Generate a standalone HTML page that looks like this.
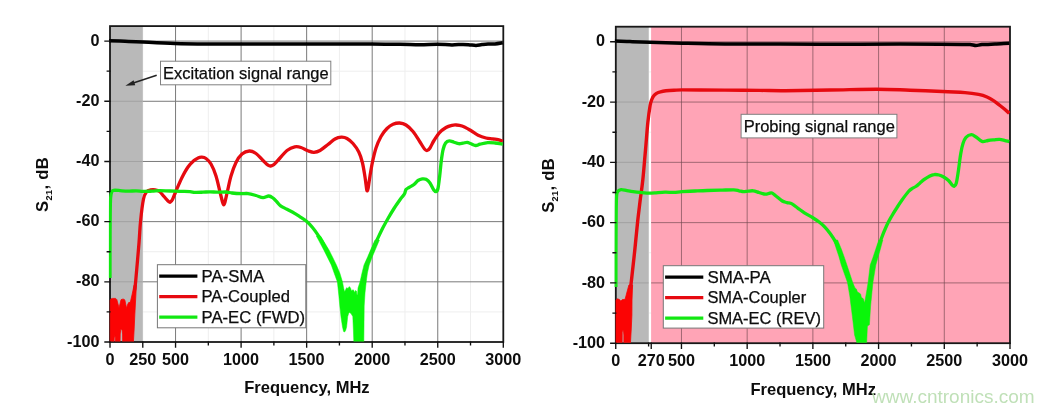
<!DOCTYPE html>
<html><head><meta charset="utf-8"><title>S21 plots</title>
<style>html,body{margin:0;padding:0;background:#fff}svg{display:block}</style></head>
<body><svg width="1055" height="412" viewBox="0 0 1055 412">
<rect width="1055" height="412" fill="#fff"/>
<clipPath id="cp1"><rect x="108.8" y="25.2" width="395.4" height="316.4"/></clipPath>
<path d="M142.78 26.1V342.0M208.32 26.1V342.0M273.88 26.1V342.0M339.42 26.1V342.0M404.97 26.1V342.0M470.52 26.1V342.0M110.0 311.91H503.3M110.0 251.73H503.3M110.0 191.55H503.3M110.0 131.37H503.3M110.0 71.19H503.3" stroke="#eeeeee" stroke-width="1" fill="none"/>
<rect x="110.0" y="26.1" width="32.8" height="315.9" fill="#b9b9b9"/>
<path d="M175.55 26.1V342.0M241.10 26.1V342.0M306.65 26.1V342.0M372.20 26.1V342.0M437.75 26.1V342.0M142.8 281.82H503.3M142.8 221.64H503.3M142.8 161.46H503.3M142.8 101.28H503.3M142.8 41.10H503.3" stroke="#7a7a7a" stroke-width="1" fill="none"/>
<path d="M110.0 281.82H142.8M110.0 221.64H142.8M110.0 161.46H142.8M110.0 101.28H142.8M110.0 41.10H142.8" stroke="#a2a2a2" stroke-width="1" fill="none"/>
<path d="M156.7 75.2L131 83.8" stroke="#222" stroke-width="1.5" fill="none"/><path d="M125.4 85.7L133.6 80.2L135.2 85.2Z" fill="#222"/>
<rect x="110.0" y="26.1" width="393.3" height="315.9" fill="none" stroke="#181818" stroke-width="1.8"/>
<g clip-path="url(#cp1)">
<path d="M109.0 40.7C111.7 40.8 119.3 41.1 125.0 41.3C130.7 41.5 134.7 41.6 143.0 42.0C151.3 42.4 163.8 43.1 175.0 43.4C186.2 43.7 198.9 43.8 210.0 43.9C221.1 44.0 225.7 44.1 241.5 44.1C257.3 44.1 288.6 44.0 305.0 44.0C321.4 44.0 328.8 44.1 340.0 44.1C351.2 44.1 362.0 43.9 372.0 43.9C382.0 43.9 392.0 44.2 400.0 44.3C408.0 44.4 413.8 44.7 420.0 44.7C426.2 44.7 431.7 44.2 437.0 44.2C442.3 44.2 447.7 44.9 452.0 44.9C456.3 44.9 460.0 44.4 463.0 44.4C466.0 44.4 467.8 44.7 470.0 44.9C472.2 45.1 474.0 45.4 476.0 45.4C478.0 45.4 480.0 44.8 482.0 44.6C484.0 44.4 485.8 44.2 488.0 44.1C490.2 44.0 492.5 44.2 495.0 44.0C497.5 43.8 501.5 43.0 502.8 42.8" stroke="#000" stroke-width="3.5" fill="none" stroke-linejoin="round" stroke-linecap="butt"/>
<path d="M110.2 344.0L110.2 300.0L111.2 298.8L112.6 298.4L115.6 298.4L116.8 299.6L118.0 304.0L119.0 308.0L120.0 304.0L121.0 299.8L122.0 299.2L124.0 299.2L124.8 300.0L125.8 304.5L126.6 308.4L127.5 305.0L128.6 302.6L130.3 302.3L132.0 295.0L134.1 285.0L136.4 285.0L135.6 300.0L134.8 315.0L134.1 330.0L133.3 344.0L122.7 344.0L122.6 334.0L122.0 329.5L120.8 329.0L120.2 334.0L120.0 344.0L115.6 344.0L115.4 338.0L114.8 335.0L114.2 338.0L114.0 344.0Z" fill="#fb0404" stroke="#fb0404" stroke-width="0.8" stroke-linejoin="round"/>
<path d="M134.6 290.0C134.8 288.5 135.0 288.8 135.7 281.0C136.4 273.2 138.2 253.0 139.0 243.0C139.8 233.0 139.8 228.3 140.6 221.0C141.3 213.7 142.5 203.9 143.5 199.0C144.5 194.1 145.5 193.2 146.7 191.7C147.9 190.2 149.1 190.2 150.5 189.9C151.9 189.6 153.5 189.5 155.0 189.8C156.5 190.1 158.0 190.4 159.5 191.5C161.0 192.6 162.6 194.9 164.0 196.5C165.4 198.1 167.0 200.1 168.0 201.0C169.0 201.9 169.4 202.4 170.2 202.2C170.9 201.9 171.5 201.4 172.5 199.5C173.5 197.6 174.4 194.7 176.0 191.0C177.6 187.3 180.0 181.5 182.0 177.5C184.0 173.5 186.0 169.8 188.0 167.0C190.0 164.2 192.3 162.0 194.0 160.5C195.7 159.0 196.7 158.6 198.0 158.0C199.3 157.4 200.5 157.1 201.8 157.2C203.1 157.3 204.5 157.4 206.0 158.5C207.5 159.6 209.3 161.1 211.0 164.0C212.7 166.9 214.5 171.3 216.0 176.0C217.5 180.7 218.9 187.7 220.0 192.0C221.1 196.3 221.9 199.9 222.5 202.0C223.1 204.1 223.3 204.8 223.7 204.8C224.1 204.8 224.4 204.3 225.0 202.0C225.6 199.7 226.5 195.3 227.5 191.0C228.5 186.7 229.6 180.8 231.0 176.0C232.4 171.2 234.2 166.2 236.0 162.5C237.8 158.8 239.8 155.9 242.0 154.0C244.2 152.1 247.1 151.1 249.4 151.0C251.7 150.9 253.7 151.9 256.0 153.5C258.3 155.1 261.0 158.6 263.0 160.5C265.0 162.4 266.7 164.3 268.0 165.2C269.3 166.1 269.7 166.1 270.7 166.0C271.7 165.9 272.4 165.8 274.0 164.5C275.6 163.2 277.8 160.3 280.0 158.0C282.2 155.7 284.6 152.3 287.0 150.5C289.4 148.7 292.4 147.4 294.7 146.9C297.0 146.4 298.8 146.8 301.0 147.5C303.2 148.2 305.8 150.0 308.0 150.8C310.2 151.6 312.0 152.4 314.0 152.3C316.0 152.2 317.7 151.8 320.0 150.5C322.3 149.2 325.5 146.4 328.0 144.5C330.5 142.6 332.8 140.2 335.0 139.0C337.2 137.8 339.3 137.3 341.3 137.2C343.3 137.1 345.1 137.4 347.0 138.5C348.9 139.6 351.0 141.2 353.0 143.5C355.0 145.8 357.2 148.8 358.8 152.0C360.4 155.2 361.5 158.8 362.5 163.0C363.5 167.2 364.3 172.7 365.0 177.0C365.7 181.3 366.2 186.7 366.6 189.0C367.0 191.3 367.0 191.0 367.3 190.8C367.6 190.6 367.8 190.5 368.2 188.0C368.6 185.5 369.3 180.3 370.0 176.0C370.7 171.7 371.4 167.1 372.4 162.4C373.4 157.7 374.6 152.3 376.0 148.0C377.4 143.7 379.2 139.8 381.0 136.5C382.8 133.2 385.0 130.5 387.0 128.5C389.0 126.5 390.9 125.2 393.0 124.3C395.1 123.4 397.4 122.9 399.6 123.0C401.8 123.1 403.8 123.6 406.0 125.0C408.2 126.4 410.7 128.7 413.0 131.5C415.3 134.3 418.1 139.1 420.0 142.0C421.9 144.9 423.3 147.6 424.5 149.0C425.7 150.4 426.2 150.7 427.1 150.5C428.0 150.3 428.9 149.7 430.0 148.0C431.1 146.3 432.4 143.0 434.0 140.5C435.6 138.0 437.3 135.0 439.3 132.8C441.3 130.6 443.9 128.8 446.0 127.5C448.1 126.2 450.3 125.7 452.0 125.3C453.7 124.9 454.6 124.9 456.3 125.0C458.0 125.1 459.7 125.2 462.0 126.0C464.3 126.8 467.3 128.5 470.0 130.0C472.7 131.5 475.4 133.9 478.1 135.2C480.8 136.5 483.6 137.4 486.0 138.0C488.4 138.6 490.7 138.6 492.7 138.9C494.7 139.2 496.3 139.2 498.0 139.6C499.7 140.0 502.0 141.0 502.8 141.3" stroke="#e60a10" stroke-width="3.3" fill="none" stroke-linejoin="round" stroke-linecap="butt"/>
<path d="M110.0 278.0C110.0 270.0 110.0 243.0 110.1 230.0C110.2 217.0 110.2 206.4 110.5 200.0C110.8 193.6 111.2 193.4 111.8 191.8C112.4 190.2 112.6 190.5 114.0 190.3C115.4 190.1 117.7 190.4 120.0 190.6C122.3 190.8 125.3 191.2 128.0 191.2C130.7 191.2 133.5 190.8 136.0 190.8C138.5 190.8 140.3 191.3 143.0 191.4C145.7 191.5 149.2 191.3 152.0 191.2C154.8 191.1 157.0 190.6 160.0 190.6C163.0 190.6 166.7 190.9 170.0 191.0C173.3 191.1 176.7 191.3 180.0 191.4C183.3 191.5 187.5 191.4 190.0 191.6C192.5 191.8 192.8 192.3 195.0 192.4C197.2 192.5 200.5 192.3 203.0 192.2C205.5 192.1 207.5 191.8 210.0 191.8C212.5 191.8 215.3 192.2 218.0 192.2C220.7 192.2 223.7 191.9 226.0 192.0C228.3 192.1 229.5 192.7 232.0 193.0C234.5 193.3 238.3 193.6 241.0 193.7C243.7 193.8 245.5 193.3 248.0 193.6C250.5 193.9 253.5 194.8 256.0 195.5C258.5 196.2 260.9 197.5 263.0 197.6C265.1 197.7 267.1 195.9 268.8 196.0C270.5 196.1 271.6 197.0 273.0 198.0C274.4 199.0 275.7 200.7 277.0 202.0C278.3 203.3 278.9 204.6 280.6 205.8C282.3 207.0 284.8 208.1 287.0 209.3C289.2 210.5 291.5 211.6 293.7 212.8C295.9 214.1 297.8 215.4 300.0 216.8C302.2 218.2 304.7 219.7 306.8 221.5C308.9 223.3 310.7 225.3 312.5 227.5C314.3 229.7 316.1 232.2 317.7 234.6C319.3 237.0 320.9 239.4 322.3 242.0C323.8 244.6 325.0 247.2 326.4 249.9C327.8 252.6 329.1 255.3 330.4 258.0C331.7 260.7 333.0 263.5 334.1 266.2C335.2 268.9 336.0 271.4 337.0 274.0C338.0 276.6 339.4 280.7 339.9 282.0" stroke="#12e812" stroke-width="3.3" fill="none" stroke-linejoin="round" stroke-linecap="butt"/>
<path d="M316.4 236.0L323.8 250.0L327.8 258.0L331.3 265.0L334.5 274.0L337.4 281.9L338.8 295.0L339.8 306.0L341.0 317.0L342.5 326.9L343.6 331.5L344.6 332.0L345.6 330.5L346.6 326.9L347.7 316.5L348.8 313.0L349.7 312.4L351.0 313.5L352.8 316.5L353.4 330.0L353.9 344.0L363.8 344.0L364.0 325.0L364.2 306.0L365.0 293.0L366.2 281.9L367.4 273.0L369.2 265.0L372.2 257.0L375.6 249.0L379.4 240.0L375.0 240.0L371.0 249.0L367.6 257.0L364.0 265.0L362.0 273.0L360.0 281.9L359.0 285.0L358.0 288.0L357.6 294.5L357.0 295.0L356.4 291.0L355.5 290.5L354.5 292.5L353.5 290.0L352.8 289.7L351.5 291.0L350.5 288.0L349.3 286.6L348.0 288.5L346.6 287.7L345.5 290.0L344.6 291.8L343.6 288.0L342.5 281.9L339.8 273.0L336.4 265.0L333.0 258.0L329.0 250.0L320.6 236.0Z" fill="#0af60a" stroke="#0af60a" stroke-width="0.5" stroke-linejoin="round"/>
<path d="M363.4 283.0C363.9 280.0 365.5 269.3 366.6 265.0C367.7 260.7 368.7 259.7 369.8 257.0C370.9 254.3 371.8 251.8 373.0 249.0C374.2 246.2 375.5 243.2 377.0 240.0C378.5 236.8 380.2 233.1 382.0 229.5C383.8 225.9 386.0 222.0 388.0 218.5C390.0 215.0 391.9 211.8 394.0 208.5C396.1 205.2 398.8 201.4 400.5 199.0C402.2 196.6 403.5 195.6 404.4 194.0C405.3 192.4 405.2 190.6 406.0 189.5C406.8 188.4 407.7 188.3 409.0 187.5C410.3 186.7 412.5 185.7 414.0 184.5C415.5 183.3 416.6 181.4 418.0 180.5C419.4 179.6 421.0 179.1 422.3 178.9C423.6 178.7 424.7 178.6 426.0 179.3C427.3 180.0 428.8 181.3 430.0 183.0C431.2 184.7 432.5 188.1 433.5 189.5C434.5 190.9 435.1 191.8 435.8 191.7C436.5 191.6 437.2 191.6 437.9 189.0C438.5 186.4 439.1 180.7 439.7 176.0C440.3 171.3 440.7 165.1 441.3 160.7C441.9 156.3 442.4 152.4 443.1 149.5C443.8 146.6 444.6 144.4 445.6 143.0C446.6 141.6 447.8 140.9 449.2 140.8C450.6 140.7 452.4 141.7 454.0 142.2C455.6 142.7 457.2 143.5 458.7 143.7C460.2 143.9 461.6 143.4 463.0 143.2C464.4 143.0 465.9 142.2 467.2 142.3C468.5 142.4 469.6 143.3 471.0 143.8C472.4 144.3 474.2 145.4 475.7 145.5C477.2 145.6 478.0 144.7 480.0 144.2C482.0 143.7 485.3 142.8 487.8 142.6C490.3 142.4 492.5 142.7 495.0 143.0C497.5 143.3 501.5 144.0 502.8 144.2" stroke="#12e812" stroke-width="3.3" fill="none" stroke-linejoin="round" stroke-linecap="butt"/>
</g>
<path d="M110.00 341.4v6.3M142.78 341.4v6.3M175.55 341.4v6.3M241.10 341.4v6.3M306.65 341.4v6.3M372.20 341.4v6.3M437.75 341.4v6.3M503.30 341.4v6.3M208.32 341.4v4M273.88 341.4v4M339.42 341.4v4M404.97 341.4v4M470.52 341.4v4M110.6 342.00h-6.3M110.6 281.82h-6.3M110.6 221.64h-6.3M110.6 161.46h-6.3M110.6 101.28h-6.3M110.6 41.10h-6.3M110.6 311.91h-4M110.6 251.73h-4M110.6 191.55h-4M110.6 131.37h-4M110.6 71.19h-4" stroke="#111" stroke-width="1.35" fill="none"/>
<g font-family="Liberation Sans, Arial, Helvetica, sans-serif" font-size="16.2" font-weight="bold" fill="#0d0d0d">
<text transform="translate(99.4 346.6) scale(1 1.03)" text-anchor="end">-100</text>
<text transform="translate(99.4 286.4) scale(1 1.03)" text-anchor="end">-80</text>
<text transform="translate(99.4 226.2) scale(1 1.03)" text-anchor="end">-60</text>
<text transform="translate(99.4 166.1) scale(1 1.03)" text-anchor="end">-40</text>
<text transform="translate(99.4 105.9) scale(1 1.03)" text-anchor="end">-20</text>
<text transform="translate(99.4 45.7) scale(1 1.03)" text-anchor="end">0</text>
<text transform="translate(110.0 365.2) scale(1 1.03)" text-anchor="middle">0</text>
<text transform="translate(142.8 365.2) scale(1 1.03)" text-anchor="middle">250</text>
<text transform="translate(175.6 365.2) scale(1 1.03)" text-anchor="middle">500</text>
<text transform="translate(241.1 365.2) scale(1 1.03)" text-anchor="middle">1000</text>
<text transform="translate(306.6 365.2) scale(1 1.03)" text-anchor="middle">1500</text>
<text transform="translate(372.2 365.2) scale(1 1.03)" text-anchor="middle">2000</text>
<text transform="translate(437.8 365.2) scale(1 1.03)" text-anchor="middle">2500</text>
<text transform="translate(503.3 365.2) scale(1 1.03)" text-anchor="middle">3000</text>
</g>
<text x="244.2" y="393.4" font-family="Liberation Sans, Arial, Helvetica, sans-serif" font-size="16.4" font-weight="bold" fill="#0d0d0d" textLength="125.4" lengthAdjust="spacingAndGlyphs">Frequency, MHz</text>
<text transform="translate(48.2 184.6) rotate(-90)" text-anchor="middle" textLength="54.6" lengthAdjust="spacing" font-family="Liberation Sans, Arial, Helvetica, sans-serif" font-size="16.6" font-weight="bold" fill="#0d0d0d">S<tspan font-size="9.2" dy="3.9">21</tspan><tspan dy="-3.9">, dB</tspan></text>
<rect x="157.4" y="264.7" width="148.4" height="63.1" fill="#fff" stroke="#777" stroke-width="1"/>
<path d="M159.2 276.1h38.2" stroke="#000" stroke-width="3.2" fill="none"/>
<text x="201.5" y="281.8" font-family="Liberation Sans, Arial, Helvetica, sans-serif" font-size="16.3" fill="#0d0d0d" stroke="#0d0d0d" stroke-width="0.25" textLength="63.0" lengthAdjust="spacingAndGlyphs">PA-SMA</text>
<path d="M159.2 296.6h38.2" stroke="#e60a10" stroke-width="3.2" fill="none"/>
<text x="201.5" y="302.3" font-family="Liberation Sans, Arial, Helvetica, sans-serif" font-size="16.3" fill="#0d0d0d" stroke="#0d0d0d" stroke-width="0.25" textLength="88.4" lengthAdjust="spacingAndGlyphs">PA-Coupled</text>
<path d="M159.2 317.1h38.2" stroke="#12e812" stroke-width="3.2" fill="none"/>
<text x="201.5" y="322.8" font-family="Liberation Sans, Arial, Helvetica, sans-serif" font-size="16.3" fill="#0d0d0d" stroke="#0d0d0d" stroke-width="0.25" textLength="103.6" lengthAdjust="spacingAndGlyphs">PA-EC (FWD)</text>
<rect x="160.5" y="61.2" width="170.3" height="23.6" fill="#fff" stroke="#808080" stroke-width="1"/>
<text x="163.1" y="78.7" font-family="Liberation Sans, Arial, Helvetica, sans-serif" font-size="16.3" fill="#0d0d0d" stroke="#0d0d0d" stroke-width="0.25" textLength="165.6" lengthAdjust="spacingAndGlyphs">Excitation signal range</text>
<clipPath id="cp2"><rect x="614.5" y="25.8" width="396.4" height="317.0"/></clipPath>
<path d="M648.60 26.7V343.2M714.31 26.7V343.2M780.02 26.7V343.2M845.73 26.7V343.2M911.44 26.7V343.2M977.15 26.7V343.2M615.8 313.06H1010.0M615.8 252.77H1010.0M615.8 192.49H1010.0M615.8 132.20H1010.0M615.8 71.91H1010.0" stroke="#eeeeee" stroke-width="1" fill="none"/>
<rect x="615.8" y="26.7" width="32.9" height="316.5" fill="#b9b9b9"/>
<path d="M615.8 282.91H648.6M615.8 222.63H648.6M615.8 162.34H648.6M615.8 102.06H648.6M615.8 41.77H648.6" stroke="#a2a2a2" stroke-width="1" fill="none"/>
<rect x="651.1" y="26.7" width="358.9" height="316.5" fill="#ffa4b6"/>
<path d="M681.46 26.7V343.2M747.17 26.7V343.2M812.88 26.7V343.2M878.58 26.7V343.2M944.29 26.7V343.2M651.1 282.91H1010.0M651.1 222.63H1010.0M651.1 162.34H1010.0M651.1 102.06H1010.0M651.1 41.77H1010.0" stroke="#70474f" stroke-opacity="0.66" stroke-width="1" fill="none"/>

<rect x="615.8" y="26.7" width="394.2" height="316.5" fill="none" stroke="#181818" stroke-width="1.8"/>
<g clip-path="url(#cp2)">
<path d="M614.8 41.0C617.3 41.1 624.1 41.4 630.0 41.6C635.9 41.8 641.3 42.0 650.0 42.3C658.7 42.6 669.5 42.9 682.0 43.2C694.5 43.5 708.7 43.9 725.0 44.0C741.3 44.1 760.8 44.1 780.0 44.1C799.2 44.1 820.0 44.2 840.0 44.2C860.0 44.2 883.3 44.0 900.0 44.0C916.7 44.0 929.7 44.2 940.0 44.3C950.3 44.4 957.0 44.6 962.0 44.6C967.0 44.6 967.7 44.4 970.0 44.5C972.3 44.6 974.0 45.5 976.0 45.5C978.0 45.5 978.8 44.9 982.0 44.6C985.2 44.4 990.5 44.2 995.0 44.0C999.5 43.8 1006.9 43.3 1009.3 43.2" stroke="#000" stroke-width="3.5" fill="none" stroke-linejoin="round" stroke-linecap="butt"/>
<path d="M616.0 344.0L616.0 300.0L617.5 298.8L619.5 299.6L620.9 301.2L622.3 299.6L624.0 299.5L625.1 299.3L627.0 292.0L628.9 285.0L632.6 285.0L632.0 300.0L631.9 315.0L631.2 330.0L630.4 344.0L623.9 344.0L623.9 335.0L623.5 331.0L622.8 330.2L622.2 332.0L622.1 344.0Z" fill="#fb0404" stroke="#fb0404" stroke-width="0.8" stroke-linejoin="round"/>
<path d="M630.4 289.0C630.6 287.3 630.9 285.5 631.6 279.0C632.3 272.5 633.8 259.7 634.8 250.0C635.8 240.3 636.8 229.3 637.7 221.0C638.6 212.7 639.4 206.8 640.2 200.0C641.1 193.2 641.9 188.3 642.8 180.0C643.7 171.7 644.6 159.7 645.5 150.0C646.4 140.3 647.1 129.4 647.9 122.0C648.7 114.6 649.5 109.2 650.1 105.5C650.8 101.8 651.2 101.1 651.8 99.5C652.4 97.9 653.0 96.8 653.8 95.8C654.6 94.8 655.4 94.1 656.5 93.4C657.6 92.7 658.9 92.2 660.5 91.8C662.1 91.4 663.8 91.1 666.0 90.8C668.2 90.5 671.3 90.3 674.0 90.2C676.7 90.1 677.7 89.9 682.0 89.9C686.3 89.9 692.8 90.0 700.0 90.0C707.2 90.0 715.0 90.0 725.0 90.1C735.0 90.2 750.0 90.3 760.0 90.4C770.0 90.5 773.3 90.8 785.0 90.7C796.7 90.6 814.7 90.2 830.0 90.0C845.3 89.8 863.4 89.2 876.7 89.2C890.0 89.2 898.1 89.8 910.0 90.2C921.9 90.6 938.8 91.3 948.0 91.7C957.2 92.1 959.9 92.1 965.0 92.6C970.1 93.0 974.9 93.7 978.6 94.4C982.3 95.1 984.5 95.9 987.0 97.0C989.5 98.1 991.7 99.5 993.9 100.9C996.1 102.3 998.1 104.1 1000.0 105.5C1001.9 106.9 1003.5 108.2 1005.0 109.5C1006.5 110.8 1008.6 112.7 1009.3 113.3" stroke="#e60a10" stroke-width="3.4" fill="none" stroke-linejoin="round" stroke-linecap="butt"/>
<path d="M615.9 287.0C615.9 279.2 615.9 254.5 616.0 240.0C616.1 225.5 616.1 208.0 616.4 200.0C616.7 192.0 616.8 193.5 617.6 191.8C618.4 190.1 619.4 189.8 621.0 189.6C622.6 189.4 624.7 190.2 627.0 190.6C629.3 191.0 632.5 191.5 635.0 191.8C637.5 192.1 639.7 192.4 642.0 192.6C644.3 192.8 646.5 193.2 648.8 193.2C651.1 193.2 653.3 193.0 656.0 192.8C658.7 192.6 662.0 192.3 665.0 192.2C668.0 192.1 671.2 192.5 674.0 192.4C676.8 192.3 678.5 191.9 682.0 191.7C685.5 191.5 690.8 191.2 695.0 191.0C699.2 190.8 702.8 190.6 707.0 190.5C711.2 190.4 715.5 190.3 720.0 190.2C724.5 190.1 730.6 189.7 733.8 189.8C737.0 189.9 737.4 190.5 739.0 190.8C740.6 191.1 742.0 191.6 743.5 191.7C745.0 191.8 746.4 191.3 748.0 191.2C749.6 191.0 751.4 190.6 753.2 190.8C755.0 191.0 757.0 191.9 759.0 192.5C761.0 193.1 763.6 194.1 765.3 194.2C767.0 194.3 767.9 193.5 769.0 193.3C770.1 193.1 770.8 192.6 772.0 193.0C773.2 193.4 774.3 194.7 776.0 196.0C777.7 197.3 780.5 199.9 782.3 201.0C784.1 202.1 785.4 202.1 787.0 202.6C788.6 203.1 790.2 202.9 792.0 203.9C793.8 204.9 795.9 206.8 798.0 208.3C800.1 209.8 801.9 211.2 804.4 212.8C806.9 214.4 810.7 216.4 813.2 218.0C815.7 219.6 817.5 220.8 819.5 222.3C821.5 223.9 823.3 225.4 825.1 227.3C826.9 229.2 828.8 231.6 830.5 234.0C832.2 236.4 834.2 239.4 835.6 241.9C837.0 244.4 837.8 246.6 838.8 249.0C839.8 251.4 840.5 253.7 841.4 256.4C842.3 259.1 843.1 262.1 844.1 265.0C845.1 267.9 846.6 271.1 847.6 274.0C848.6 276.9 849.7 281.1 850.1 282.5" stroke="#12e812" stroke-width="3.3" fill="none" stroke-linejoin="round" stroke-linecap="butt"/>
<path d="M833.6 240.0L836.4 249.0L838.9 256.4L841.3 265.0L847.5 282.5L849.8 296.0L852.4 316.5L854.6 335.0L857.2 344.0L866.6 344.0L867.0 335.0L867.4 326.0L869.4 324.8L870.6 306.0L872.9 282.5L875.8 265.0L877.8 258.0L880.4 249.0L882.8 240.0L878.8 240.0L875.8 249.0L872.8 258.0L870.2 265.0L868.1 282.5L866.4 293.0L864.6 303.0L863.4 299.0L862.5 298.0L861.4 297.5L860.6 294.0L858.5 292.5L857.4 292.0L856.4 289.0L855.0 288.0L852.7 282.5L846.9 265.0L844.0 256.4L841.3 249.0L837.6 240.0Z" fill="#0af60a" stroke="#0af60a" stroke-width="0.5" stroke-linejoin="round"/>
<path d="M870.5 283.0C870.9 280.2 872.2 270.2 873.0 266.0C873.8 261.8 874.4 260.8 875.2 258.0C876.0 255.2 877.1 252.0 878.0 249.0C878.9 246.0 879.3 243.9 880.8 240.0C882.2 236.1 884.9 229.4 886.7 225.5C888.5 221.6 889.9 219.3 891.5 216.5C893.1 213.7 894.6 211.2 896.4 208.5C898.1 205.8 900.0 202.8 902.0 200.0C904.0 197.2 906.8 193.4 908.5 191.5C910.2 189.6 910.8 189.4 912.0 188.6C913.2 187.8 914.5 187.4 915.8 186.5C917.1 185.6 918.6 184.2 920.0 183.0C921.4 181.8 922.8 180.5 924.3 179.4C925.8 178.3 927.4 177.3 929.0 176.5C930.6 175.7 932.3 174.8 934.0 174.6C935.7 174.3 937.4 174.6 939.0 175.0C940.6 175.4 942.1 176.1 943.7 177.0C945.3 177.9 947.1 179.2 948.5 180.5C949.9 181.8 951.0 183.8 952.0 184.8C953.0 185.8 953.5 186.6 954.2 186.3C954.9 186.0 955.6 185.7 956.3 183.0C957.0 180.3 957.8 174.9 958.5 170.0C959.2 165.1 960.0 157.8 960.8 153.4C961.5 149.0 962.1 146.2 963.0 143.5C963.9 140.8 964.6 138.9 966.0 137.4C967.4 135.9 969.7 134.8 971.4 134.7C973.1 134.6 974.2 135.9 976.0 137.0C977.8 138.1 980.0 140.8 982.0 141.4C984.0 142.0 986.0 140.8 988.0 140.5C990.0 140.2 992.1 140.0 994.0 139.8C995.9 139.6 997.7 139.2 999.5 139.3C1001.3 139.4 1003.4 140.2 1005.0 140.6C1006.6 141.0 1008.6 141.4 1009.3 141.6" stroke="#12e812" stroke-width="3.3" fill="none" stroke-linejoin="round" stroke-linecap="butt"/>
</g>
<path d="M615.75 342.6v6.3M651.23 342.6v6.3M681.46 342.6v6.3M747.17 342.6v6.3M812.88 342.6v6.3M878.58 342.6v6.3M944.29 342.6v6.3M1010.00 342.6v6.3M714.31 342.6v4M780.02 342.6v4M845.73 342.6v4M911.44 342.6v4M977.15 342.6v4M648.60 342.6v4M616.4 343.20h-6.3M616.4 282.91h-6.3M616.4 222.63h-6.3M616.4 162.34h-6.3M616.4 102.06h-6.3M616.4 41.77h-6.3M616.4 313.06h-4M616.4 252.77h-4M616.4 192.49h-4M616.4 132.20h-4M616.4 71.91h-4" stroke="#111" stroke-width="1.35" fill="none"/>
<g font-family="Liberation Sans, Arial, Helvetica, sans-serif" font-size="16.2" font-weight="bold" fill="#0d0d0d">
<text transform="translate(605.1 347.8) scale(1 1.03)" text-anchor="end">-100</text>
<text transform="translate(605.1 287.5) scale(1 1.03)" text-anchor="end">-80</text>
<text transform="translate(605.1 227.2) scale(1 1.03)" text-anchor="end">-60</text>
<text transform="translate(605.1 166.9) scale(1 1.03)" text-anchor="end">-40</text>
<text transform="translate(605.1 106.7) scale(1 1.03)" text-anchor="end">-20</text>
<text transform="translate(605.1 46.4) scale(1 1.03)" text-anchor="end">0</text>
<text transform="translate(615.8 366.4) scale(1 1.03)" text-anchor="middle">0</text>
<text transform="translate(651.2 366.4) scale(1 1.03)" text-anchor="middle">270</text>
<text transform="translate(681.5 366.4) scale(1 1.03)" text-anchor="middle">500</text>
<text transform="translate(747.2 366.4) scale(1 1.03)" text-anchor="middle">1000</text>
<text transform="translate(812.9 366.4) scale(1 1.03)" text-anchor="middle">1500</text>
<text transform="translate(878.6 366.4) scale(1 1.03)" text-anchor="middle">2000</text>
<text transform="translate(944.3 366.4) scale(1 1.03)" text-anchor="middle">2500</text>
<text transform="translate(1010.0 366.4) scale(1 1.03)" text-anchor="middle">3000</text>
</g>
<text x="750.5" y="394.6" font-family="Liberation Sans, Arial, Helvetica, sans-serif" font-size="16.4" font-weight="bold" fill="#0d0d0d" textLength="125.4" lengthAdjust="spacingAndGlyphs">Frequency, MHz</text>
<text transform="translate(554.0 185.5) rotate(-90)" text-anchor="middle" textLength="54.6" lengthAdjust="spacing" font-family="Liberation Sans, Arial, Helvetica, sans-serif" font-size="16.6" font-weight="bold" fill="#0d0d0d">S<tspan font-size="9.2" dy="3.9">21</tspan><tspan dy="-3.9">, dB</tspan></text>
<rect x="663.3" y="265.7" width="160.4" height="62.4" fill="#fff" stroke="#777" stroke-width="1"/>
<path d="M665.1 277.1h38.2" stroke="#000" stroke-width="3.2" fill="none"/>
<text x="707.4" y="282.8" font-family="Liberation Sans, Arial, Helvetica, sans-serif" font-size="16.3" fill="#0d0d0d" stroke="#0d0d0d" stroke-width="0.25" textLength="63.5" lengthAdjust="spacingAndGlyphs">SMA-PA</text>
<path d="M665.1 297.6h38.2" stroke="#e60a10" stroke-width="3.2" fill="none"/>
<text x="707.4" y="303.3" font-family="Liberation Sans, Arial, Helvetica, sans-serif" font-size="16.3" fill="#0d0d0d" stroke="#0d0d0d" stroke-width="0.25" textLength="98.8" lengthAdjust="spacingAndGlyphs">SMA-Coupler</text>
<path d="M665.1 318.1h38.2" stroke="#12e812" stroke-width="3.2" fill="none"/>
<text x="707.4" y="323.8" font-family="Liberation Sans, Arial, Helvetica, sans-serif" font-size="16.3" fill="#0d0d0d" stroke="#0d0d0d" stroke-width="0.25" textLength="113.6" lengthAdjust="spacingAndGlyphs">SMA-EC (REV)</text>
<rect x="741.1" y="114.3" width="155.8" height="23.6" fill="#fff" stroke="#808080" stroke-width="1"/>
<text x="743.7" y="131.8" font-family="Liberation Sans, Arial, Helvetica, sans-serif" font-size="16.3" fill="#0d0d0d" stroke="#0d0d0d" stroke-width="0.25" textLength="151.2" lengthAdjust="spacingAndGlyphs">Probing signal range</text>
<text x="872" y="402.8" font-family="Liberation Sans, Arial, Helvetica, sans-serif" font-size="19" fill="#b4dbaa" fill-opacity="0.85" textLength="162.7" lengthAdjust="spacingAndGlyphs">www.cntronics.com</text>
</svg></body></html>
